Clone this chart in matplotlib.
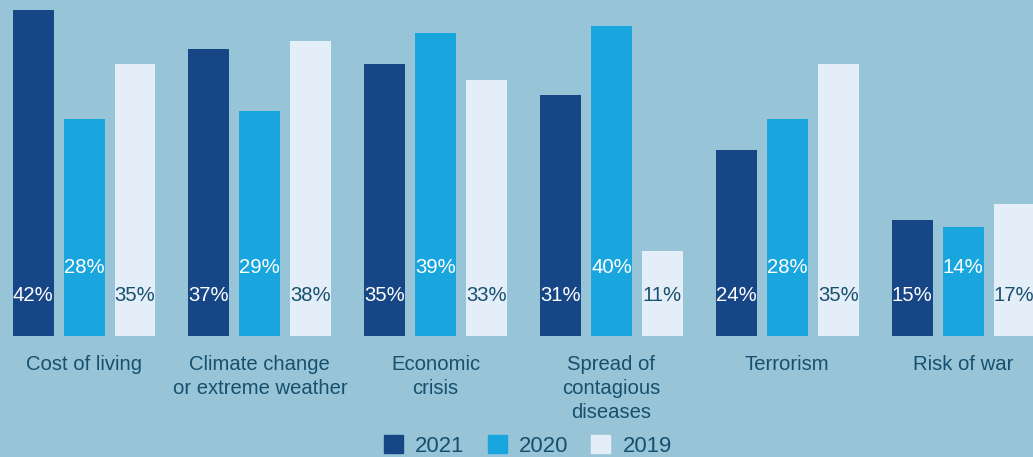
import matplotlib.pyplot as plt
import numpy as np
from matplotlib.patches import Patch

categories = ["Cost of living", "Climate change\nor extreme weather", "Economic\ncrisis",
              "Spread of\ncontagious\ndiseases", "Terrorism", "Risk of war"]
years = ["2021", "2020", "2019"]
values_2021 = [42, 37, 35, 31, 24, 15]
values_2020 = [28, 29, 39, 40, 28, 14]
values_2019 = [35, 38, 33, 11, 35, 17]

colors = ["#174687", "#19a6df", "#e4eef8"]
label_colors = ["white", "white", "#17506e"]
label_y = [5.2, 8.8, 5.2]
bg = "#97c5d7"
text_color = "#17506e"

plt.rcParams["font.family"] = ["Liberation Sans", "DejaVu Sans"]

fig = plt.figure(figsize=(10.33, 4.57), dpi=100, facecolor=bg)
ax = fig.add_axes([0, 0.2648, 1, 0.7352])
ax.set_facecolor(bg)

x = np.arange(len(categories))
step = 0.29
width = 0.233
series = [values_2021, values_2020, values_2019]
for k, vals in enumerate(series):
    pos = x + (k - 1) * step
    ax.bar(pos, vals, width=width, color=colors[k])
    for p, v in zip(pos, vals):
        ax.text(p, label_y[k], f"{v}%", ha="center", va="center",
                color=label_colors[k], fontsize=14.6)

ax.set_xlim(-0.478, 5.398)
ax.set_ylim(0, 43.3)
ax.set_xticks(x)
ax.set_xticklabels(categories, fontsize=14.6, color=text_color, linespacing=1.32)
ax.tick_params(axis="x", length=0, pad=14)
ax.set_yticks([])
for s in ax.spines.values():
    s.set_visible(False)

handles = [Patch(color=c) for c in colors]
leg = fig.legend(handles, years, loc="center", bbox_to_anchor=(0.511, 11 / 457),
                 ncol=3, frameon=False, fontsize=15.9, handlelength=0.86,
                 handleheight=0.86, handletextpad=0.55, columnspacing=1.05,
                 borderpad=0, labelcolor=text_color)

fig.savefig("out.png", dpi=100, facecolor=bg)
